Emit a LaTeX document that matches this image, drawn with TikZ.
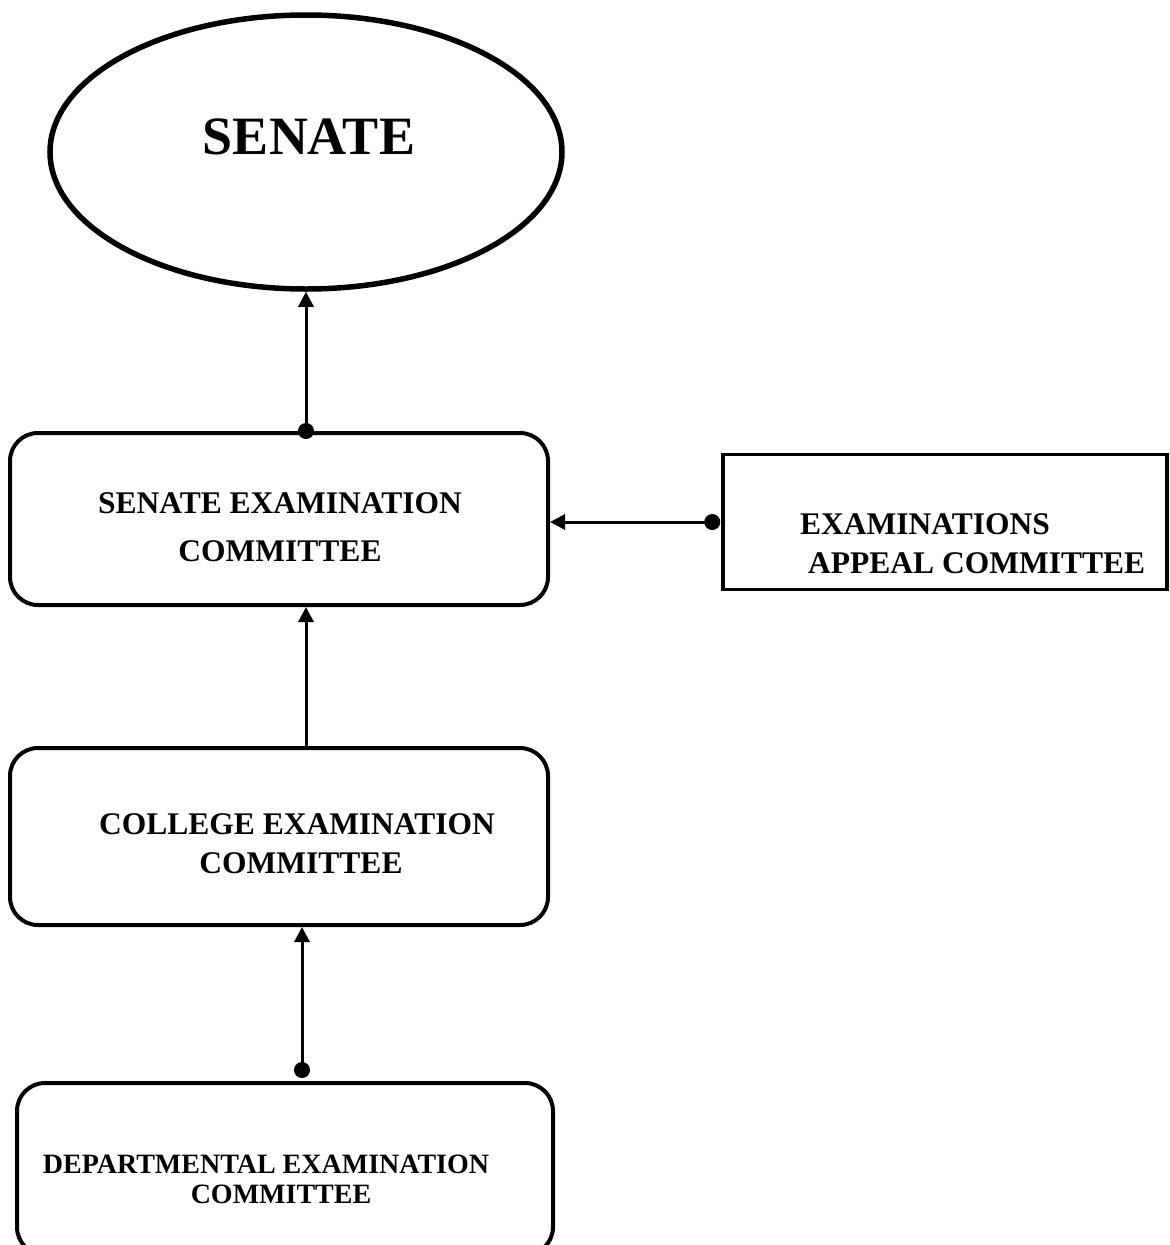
\documentclass[tikz,border=0pt]{standalone}
\usepackage{fontspec}
\setmainfont{Liberation Serif}
\usetikzlibrary{shapes.geometric,arrows.meta,calc}
\begin{document}
\begin{tikzpicture}[x=1pt,y=-1pt,
  rbox/.style={draw,line width=4pt,rounded corners=28pt,inner sep=0pt},
  sbox/.style={draw,line width=3.5pt,inner sep=0pt},
  lbl/.style={inner sep=0pt,anchor=base,font=\bfseries\fontsize{31.5}{36}\selectfont},
  slbl/.style={lbl,font=\bfseries\fontsize{28}{32}\selectfont},
  conn/.style={line width=3pt,-{Triangle[length=15pt,width=15pt]}},
  dotst/.style={fill=black}
]
\useasboundingbox (0,0) rectangle (1170,1245);
\fill[white] (0,0) rectangle (1170,1245);
\clip (0,0) rectangle (1170,1245);

% nodes
\node[draw,ellipse,line width=5.5pt,inner sep=0pt,minimum width=512pt,minimum height=274pt] (senate) at (306,152) {};
\node[rbox,minimum width=538pt,minimum height=172pt] (sec) at (279,519) {};
\node[sbox,minimum width=444pt,minimum height=135pt] (appeal) at (945,522) {};
\node[rbox,minimum width=538pt,minimum height=177pt] (coll) at (279,836.5) {};
\node[rbox,minimum width=536pt,minimum height=172pt] (dept) at (285,1169) {};

% texts
\node[lbl,font=\bfseries\fontsize{54}{60}\selectfont] (tsenate) at (309,154) {SENATE};
\node[lbl] (tsec1) at (280,513) {SENATE EXAMINATION};
\node[lbl] (tsec2) at (280,561) {COMMITTEE};
\node[lbl,anchor=base west] (tapp1) at (800,534) {EXAMINATIONS};
\node[lbl,anchor=base west] (tapp2) at (808,573) {APPEAL COMMITTEE};
\node[lbl] (tcol1) at (297,834) {COLLEGE EXAMINATION};
\node[lbl] (tcol2) at (301,873) {COMMITTEE};
\node[slbl] (tdep1) at (266,1173) {DEPARTMENTAL EXAMINATION};
\node[slbl] (tdep2) at (281,1203) {COMMITTEE};

% connector endpoints
\coordinate (d1) at (sec.north -| senate.south);
\coordinate (d2) at ($(appeal.west)+(-9,0)$);
\coordinate (c1) at (coll.north -| senate.south);
\coordinate (d3) at ($(dept.north)+(17,-11)$);

% connectors
\draw[conn] (d1) -- (senate.south);
\fill[dotst] (d1) circle (8);
\draw[conn] (d2) -- (sec.east |- d2);
\fill[dotst] (d2) circle (8);
\draw[conn] (c1) -- (sec.south -| c1);
\draw[conn] (d3) -- (coll.south -| d3);
\fill[dotst] (d3) circle (8);
\end{tikzpicture}
\end{document}
